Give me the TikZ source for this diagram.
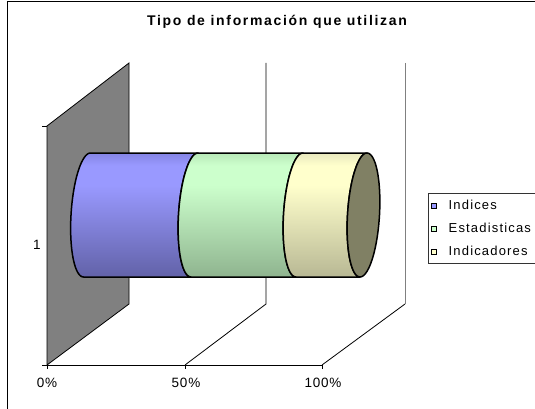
\documentclass[tikz,border=0pt]{standalone}
\usepackage{fontspec}
\setmainfont{Liberation Sans}
\newfontfamily\titlefont[LetterSpace=12]{Liberation Sans}
\newfontfamily\labfont[LetterSpace=6]{Liberation Sans}
\newfontfamily\legfont[LetterSpace=9]{Liberation Sans}
\definecolor{wallgray}{RGB}{128,128,128}
\definecolor{blueT}{RGB}{132,132,228}
\definecolor{blueL}{RGB}{153,153,255}
\definecolor{blueB}{RGB}{98,98,168}
\definecolor{greenT}{RGB}{184,232,184}
\definecolor{greenL}{RGB}{204,255,204}
\definecolor{greenB}{RGB}{143,180,143}
\definecolor{yelT}{RGB}{232,232,190}
\definecolor{yelL}{RGB}{255,255,204}
\definecolor{yelB}{RGB}{184,184,148}
\definecolor{capcol}{RGB}{128,128,100}
\definecolor{sqblue}{RGB}{153,153,255}
\definecolor{sqgreen}{RGB}{204,255,204}
\definecolor{sqyel}{RGB}{255,255,204}
\pgfdeclareverticalshading{blueshade}{100bp}{color(0bp)=(blueB); color(25bp)=(blueB); color(62bp)=(blueL); color(70bp)=(blueL); color(75bp)=(blueT); color(100bp)=(blueT)}
\pgfdeclareverticalshading{greenshade}{100bp}{color(0bp)=(greenB); color(25bp)=(greenB); color(62bp)=(greenL); color(70bp)=(greenL); color(75bp)=(greenT); color(100bp)=(greenT)}
\pgfdeclareverticalshading{yelshade}{100bp}{color(0bp)=(yelB); color(25bp)=(yelB); color(62bp)=(yelL); color(70bp)=(yelL); color(75bp)=(yelT); color(100bp)=(yelT)}
\newcommand\mycylseg[3]{%
  \shade[shading=#3, draw=black, line width=1.5pt, line join=round]
    plot[domain=90:270,samples=40,variable=\t] ({#1+16*cos(\t)+3.5*sin(\t)},{215-62*sin(\t)})
    -- plot[domain=270:90,samples=40,variable=\t] ({#2+16*cos(\t)+3.5*sin(\t)},{215-62*sin(\t)})
    -- cycle;}
\tikzset{
  thinline/.style={line width=0.8pt, draw=black},
  axlab/.style={font=\labfont\fontsize{13.5}{15}\selectfont, inner sep=0pt},
  legtext/.style={font=\legfont\fontsize{13}{15}\selectfont, anchor=base west, inner sep=0pt},
  legsq/.style={draw=black, line width=0.8pt, minimum size=5.5pt, inner sep=0pt}
}
\begin{document}
\begin{tikzpicture}[x=1pt,y=-1pt]
\useasboundingbox (0,0) rectangle (535,409);
% outer border (top and left)
\draw[line width=1pt] (7.5,409) -- (7.5,1.5) -- (535,1.5);
% title
\node[font=\titlefont\bfseries\fontsize{14}{16}\selectfont, anchor=base, inner sep=0pt] (title) at (277,26) {Tipo de información que utilizan};
% gray wall
\filldraw[fill=wallgray, thinline] (47,126) -- (129,63) -- (129,304) -- (47,365) -- cycle;
% gridlines
\draw[thinline] (266,63) -- (266,304) -- (185,365);
\draw[line width=0.8pt, draw=wallgray] (405,63) -- (405,304);
\draw[thinline] (405,304) -- (322,365);
% axes and ticks
\draw[thinline] (42,365) -- (322,365);
\draw[thinline] (42,126) -- (47,126);
\foreach \xx in {47,185,322} \draw[thinline] (\xx,365) -- (\xx,369);
% cylinder
\mycylseg{87}{194.5}{blueshade}
\mycylseg{194.5}{299.5}{greenshade}
\mycylseg{299.5}{363.5}{yelshade}
\filldraw[fill=capcol, draw=black, line width=1.5pt]
  plot[domain=0:360,samples=80,variable=\t] ({363.5+16*cos(\t)+3.5*sin(\t)},{215-62*sin(\t)}) -- cycle;
% axis labels
\node[axlab] (l0) at (47,383) {0\%};
\node[axlab] (l50) at (186,383) {50\%};
\node[axlab] (l100) at (323,383) {100\%};
\node[axlab] (l1) at (37,245) {1};
% legend
\draw[line width=0.8pt, draw=black!80] (536,193) -- (428,193) -- (428,263) -- (536,263);
\node[legsq, fill=sqblue] (s1) at (434,206) {};
\node[legsq, fill=sqgreen] (s2) at (434,229) {};
\node[legsq, fill=sqyel] (s3) at (434,252) {};
\node[legtext] (t1) at (448.5,209.5) {Indices};
\node[legtext] (t2) at (448.5,232.5) {Estadisticas};
\node[legtext] (t3) at (448.5,255.5) {Indicadores};
\end{tikzpicture}
\end{document}
